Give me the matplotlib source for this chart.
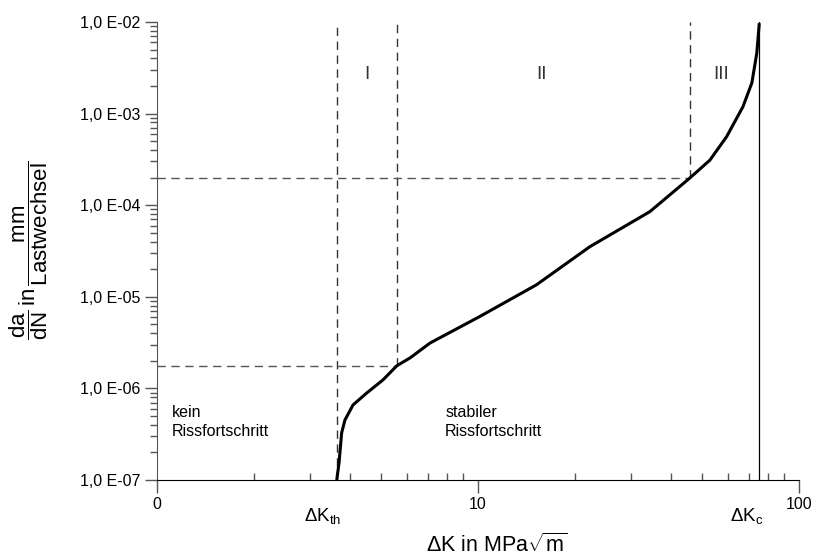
import matplotlib
matplotlib.use("Agg")
import matplotlib.pyplot as plt
from matplotlib import font_manager
from matplotlib.ticker import FixedLocator, NullFormatter
import numpy as np

# ---- data ----
dK = [3.63, 3.69, 3.76, 3.85, 4.08, 4.50, 5.06, 5.59, 6.14, 7.09, 10.1, 15.2,
      22.3, 34.3, 45.7, 52.8, 59.5, 66.9, 71.3, 73.9, 75.2]
dadN = [1.0e-7, 1.53e-7, 3.26e-7, 4.52e-7, 6.6e-7, 8.9e-7, 1.24e-6, 1.77e-6,
        2.15e-6, 3.13e-6, 6.06e-6, 1.35e-5, 3.52e-5, 8.5e-5, 1.98e-4, 3.11e-4,
        5.6e-4, 1.19e-3, 2.16e-3, 4.6e-3, 9.7e-3]
dK_th = 3.64
dK_I_II = 5.6
dK_II_III = 45.7
dK_c = 75.2
rate_low = 1.77e-6
rate_high = 1.98e-4
y_ticks = [1e-7, 1e-6, 1e-5, 1e-4, 1e-3, 1e-2]
y_ticklabels = ["1,0 E-07", "1,0 E-06", "1,0 E-05", "1,0 E-04", "1,0 E-03", "1,0 E-02"]
x_ticks = [1, 10, 100]
x_ticklabels = ["0", "10", "100"]
regions = ["I", "II", "III"]

names = {f.name for f in font_manager.fontManager.ttflist}
if "Liberation Sans Narrow" in names:
    fam = "Liberation Sans Narrow"
    fs = 13
else:
    fam = "Liberation Sans"
    fs = 11.5

plt.rcParams['font.family'] = [fam, 'DejaVu Sans']
plt.rcParams['mathtext.fontset'] = 'custom'
plt.rcParams['mathtext.rm'] = fam
plt.rcParams['mathtext.it'] = fam
plt.rcParams['mathtext.bf'] = fam

fig = plt.figure(figsize=(8.13, 5.58), dpi=100)
ax = fig.add_axes([157/813, 1-480/558, (799-157)/813, (480-22)/558])
ax.set_xscale('log')
ax.set_yscale('log')
ax.set_xlim(1, 100)
ax.set_ylim(1e-7, 1e-2)

dash = (0, (6, 4))
lc = '#333333'
ax.plot([dK_th, dK_th], [1e-7, 1e-2], color=lc, lw=1, linestyle=dash)
ax.plot([dK_I_II, dK_I_II], [rate_low, 1e-2], color=lc, lw=1, linestyle=dash)
ax.plot([dK_II_III, dK_II_III], [rate_high, 1e-2], color=lc, lw=1, linestyle=dash)
ax.plot([1, dK_I_II], [rate_low, rate_low], color='#555555', lw=1, linestyle=dash)
ax.plot([1, dK_II_III], [rate_high, rate_high], color='#555555', lw=1, linestyle=dash)
ax.plot([dK_c, dK_c], [1e-7, 1e-2], color='black', lw=0.9)
ax.plot(dK, dadN, color='black', lw=2.2, solid_capstyle='butt', solid_joinstyle='round')

for sp in ['top', 'right']:
    ax.spines[sp].set_visible(False)
ax.spines['left'].set_color('#555555')
ax.spines['bottom'].set_color('black')

ax.yaxis.set_major_locator(FixedLocator(y_ticks))
ax.set_yticklabels(y_ticklabels, fontsize=fs)
ymin = [m * 10.0**e for e in range(-7, -2) for m in range(2, 10)]
ax.yaxis.set_minor_locator(FixedLocator(ymin))
ax.yaxis.set_minor_formatter(NullFormatter())
ax.tick_params(axis='y', which='major', length=9, width=1, color='#555555', pad=3, direction='out')
ax.tick_params(axis='y', which='minor', length=5, width=1, color='#555555', direction='out')

ax.xaxis.set_major_locator(FixedLocator(x_ticks))
ax.set_xticklabels(x_ticklabels, fontsize=fs)
xmin = [m * 10.0**e for e in range(0, 2) for m in range(2, 10)]
ax.xaxis.set_minor_locator(FixedLocator(xmin))
ax.xaxis.set_minor_formatter(NullFormatter())
ax.tick_params(axis='x', which='major', length=9, width=1, color='#555555', pad=3, direction='out')
ax.tick_params(axis='x', which='minor', length=5, width=1, color='#555555', direction='in')

trans = ax.get_xaxis_transform()
ax.text(3.29, -0.078, r'$\Delta\mathrm{K}_{\mathrm{th}}$', transform=trans, ha='center', va='center', fontsize=fs+2)
ax.text(68.8, -0.078, r'$\Delta\mathrm{K}_{\mathrm{c}}$', transform=trans, ha='center', va='center', fontsize=fs+2)

for xr, lab in zip([4.51, 15.8, 57.1], regions):
    ax.text(xr, 0.885, lab, transform=trans, ha='center', va='center', fontsize=fs+2, color='#333333')

ax.text(1.11, 4.3e-7, "kein\nRissfortschritt", ha='left', va='center', fontsize=fs, linespacing=1.3)
ax.text(7.9, 4.3e-7, "stabiler\nRissfortschritt", ha='left', va='center', fontsize=fs, linespacing=1.3)

fig.text(497/813, 1-545/558, r'$\Delta\mathrm{K\ in\ MPa}\sqrt{\mathrm{m}}$', ha='center', va='center', fontsize=fs+4)
fig.text(29/813, 1-250/558,
         r'$\dfrac{\mathrm{da}}{\mathrm{dN}}\,\mathrm{in}\,\dfrac{\mathrm{mm}}{\mathrm{Lastwechsel}}$',
         rotation=90, ha='center', va='center', fontsize=fs+4.5)

fig.savefig("out.png", dpi=100)
